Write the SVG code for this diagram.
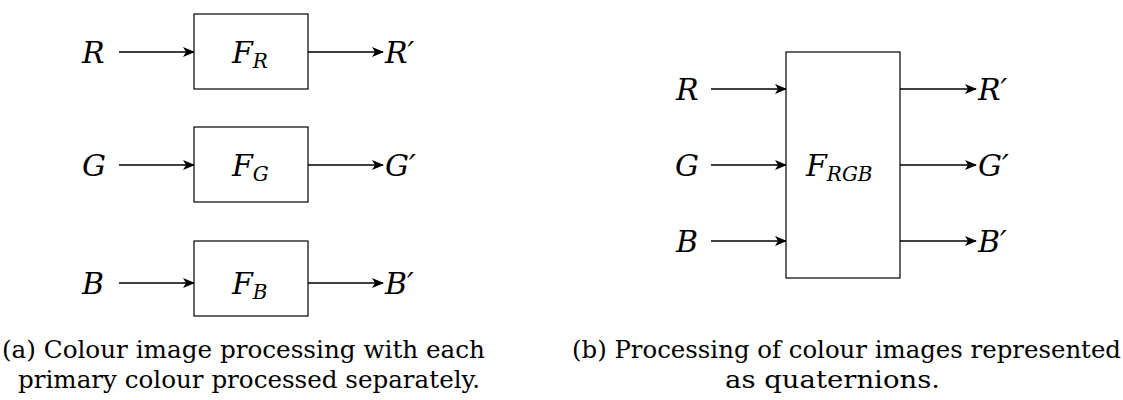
<svg xmlns="http://www.w3.org/2000/svg" width="1123" height="400" viewBox="0 0 1123 400">
<defs>
<marker id="arr" viewBox="0 0 12 10" refX="11" refY="5" markerWidth="12" markerHeight="10" markerUnits="userSpaceOnUse" orient="auto">
<path d="M0,0 L12,5 L0,10 L3,5 Z" fill="#000"/>
</marker>
<style>
.box{fill:#fff;stroke:#000;stroke-width:1.2}
.ln{stroke:#000;stroke-width:1.6;fill:none;marker-end:url(#arr)}
.m{font-family:'DejaVu Serif','Liberation Serif',serif;font-style:italic;font-size:30px;fill:#000}
.s{font-family:'DejaVu Serif','Liberation Serif',serif;font-style:italic;font-size:20px;fill:#000}
.c{font-family:'DejaVu Serif','Liberation Serif',serif;font-size:24px;fill:#000}
</style>
</defs>
<g id="connectors">
<line class="ln" x1="119" y1="52" x2="194" y2="52"/>
<line class="ln" x1="308" y1="52" x2="383" y2="52"/>
<line class="ln" x1="119" y1="165" x2="194" y2="165"/>
<line class="ln" x1="308" y1="165" x2="383" y2="165"/>
<line class="ln" x1="119" y1="283" x2="194" y2="283"/>
<line class="ln" x1="308" y1="283" x2="383" y2="283"/>
<line class="ln" x1="711" y1="89" x2="786" y2="89"/>
<line class="ln" x1="711" y1="165" x2="786" y2="165"/>
<line class="ln" x1="711" y1="241" x2="786" y2="241"/>
<line class="ln" x1="900" y1="89" x2="976" y2="89"/>
<line class="ln" x1="900" y1="165" x2="976" y2="165"/>
<line class="ln" x1="900" y1="241" x2="976" y2="241"/>
</g>
<g id="FR">
<rect class="box" x="194" y="14" width="114" height="75"/>
<text class="m" x="232" y="63">F<tspan class="s" dy="5">R</tspan></text>
</g>
<g id="FG">
<rect class="box" x="194" y="127" width="114" height="75"/>
<text class="m" x="232" y="176">F<tspan class="s" dy="5">G</tspan></text>
</g>
<g id="FB">
<rect class="box" x="194" y="241" width="114" height="75"/>
<text class="m" x="232" y="294">F<tspan class="s" dy="5">B</tspan></text>
</g>
<g id="FRGB">
<rect class="box" x="786" y="52" width="114" height="226"/>
<text class="m" x="806" y="176">F<tspan class="s" dy="5">RGB</tspan></text>
</g>
<g id="labels">
<text class="m" x="82" y="63">R</text>
<text class="m" x="82" y="176">G</text>
<text class="m" x="82" y="294">B</text>
<text class="m" x="385" y="63">R′</text>
<text class="m" x="385" y="176">G′</text>
<text class="m" x="385" y="294">B′</text>
<text class="m" x="676" y="100">R</text>
<text class="m" x="675" y="176">G</text>
<text class="m" x="676" y="252">B</text>
<text class="m" x="978" y="100">R′</text>
<text class="m" x="978" y="176">G′</text>
<text class="m" x="978" y="252">B′</text>
</g>
<g id="captions">
<text class="c" x="2" y="358" textLength="483" lengthAdjust="spacingAndGlyphs">(a) Colour image processing with each</text>
<text class="c" x="18" y="388" textLength="462" lengthAdjust="spacingAndGlyphs">primary colour processed separately.</text>
<text class="c" x="572" y="358" textLength="549" lengthAdjust="spacingAndGlyphs">(b) Processing of colour images represented</text>
<text class="c" x="725" y="388" textLength="215" lengthAdjust="spacingAndGlyphs">as quaternions.</text>
</g>
</svg>
